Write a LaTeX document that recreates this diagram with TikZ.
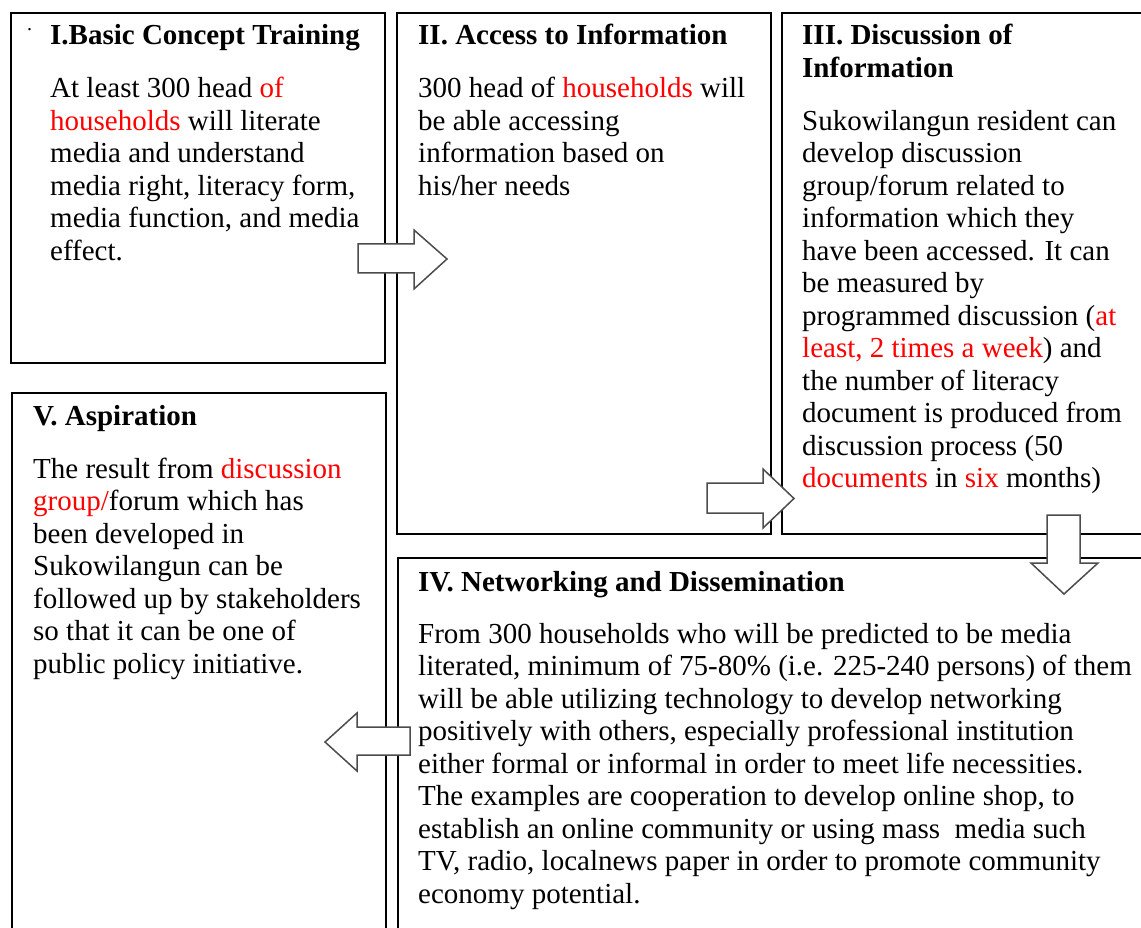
\documentclass[tikz,border=0pt]{standalone}
\usepackage{fontspec}
\setmainfont{Liberation Serif}
\newcommand{\rd}[1]{\textcolor{red}{#1}}
\begin{document}
\begin{tikzpicture}[x=1pt,y=-1pt,
  box/.style={draw=black, line width=1.6pt, anchor=north west, inner sep=0pt},
  ttl/.style={font=\fontsize{29}{32.5}\selectfont\bfseries, anchor=base west, inner sep=0pt, align=left},
  body/.style={font=\fontsize{29}{32.5}\selectfont, anchor=base west, inner sep=0pt, align=left},
  blk/.style={draw=black!70, line width=1.5pt, fill=white, line join=miter}]
\useasboundingbox (0,0) rectangle (1141,928);
\clip (0,0) rectangle (1141,928);
% boxes
\node[box, minimum width=374pt, minimum height=350pt] (b1) at (10,12) {};
\node[box, minimum width=374pt, minimum height=521pt] (b2) at (396,12) {};
\node[box, minimum width=420pt, minimum height=521pt] (b3) at (781,12) {};
\node[box, minimum width=374pt, minimum height=560pt] (b5) at (11,392) {};
\node[box, minimum width=800pt, minimum height=420pt] (b4) at (397,557) {};
% texts (anchor = baseline of the last line)
\node[body, font=\fontsize{20}{24}\selectfont] (dot) at (27,31) {.};
\node[ttl] (t1) at (50,45) {I.Basic Concept Training};
\node[body] (x1) at (50,260.5) {At least 300 head \rd{of}\\ \rd{households} will literate\\ media and understand\\ media right, literacy form,\\ media function, and media\\ effect.};
\node[ttl] (t2) at (418,45) {II. Access to Information};
\node[body] (x2) at (418,195.5) {300 head of \rd{households} will\\ be able accessing\\ information based on\\ his/her needs};
\node[ttl] (t3) at (802,77.5) {III. Discussion of\\ Information};
\node[body] (x3) at (802,487.5) {Sukowilangun resident can\\ develop discussion\\ group/forum related to\\ information which they\\ have been accessed. It can\\ be measured by\\ programmed discussion (\rd{at}\\ \rd{least, 2 times a week}) and\\ the number of literacy\\ document is produced from\\ discussion process (50\\ \rd{documents} in \rd{six} months)};
\node[ttl] (t5) at (33,425) {V. Aspiration};
\node[body] (x5) at (33,673) {The result from \rd{discussion}\\ \rd{group/}forum which has\\ been developed in\\ Sukowilangun can be\\ followed up by stakeholders\\ so that it can be one of\\ public policy initiative.};
\node[ttl] (t4) at (418,591) {IV. Networking and Dissemination};
\node[body] (x4) at (418,903) {From 300 households who will be predicted to be media\\ literated, minimum of 75-80\% (i.e. 225-240 persons) of them\\ will be able utilizing technology to develop networking\\ positively with others, especially professional institution\\ either formal or informal in order to meet life necessities.\\ The examples are cooperation to develop online shop, to\\ establish an online community or using mass\ \ media such\\ TV, radio, localnews paper in order to promote community\\ economy potential.};
% block arrows
\draw[blk] (358,244) -- (414,244) -- (414,230) -- (447,259) -- (414,289) -- (414,273) -- (358,273) -- cycle;
\draw[blk] (707,483) -- (763,483) -- (763,469) -- (794,498.5) -- (763,528) -- (763,513) -- (707,513) -- cycle;
\draw[blk] (1047,515) -- (1080,515) -- (1080,563) -- (1098,563) -- (1064,594) -- (1031,563) -- (1047,563) -- cycle;
\draw[blk] (410,727) -- (357,727) -- (357,713) -- (325,742) -- (357,771) -- (357,755) -- (410,755) -- cycle;
\end{tikzpicture}
\end{document}
